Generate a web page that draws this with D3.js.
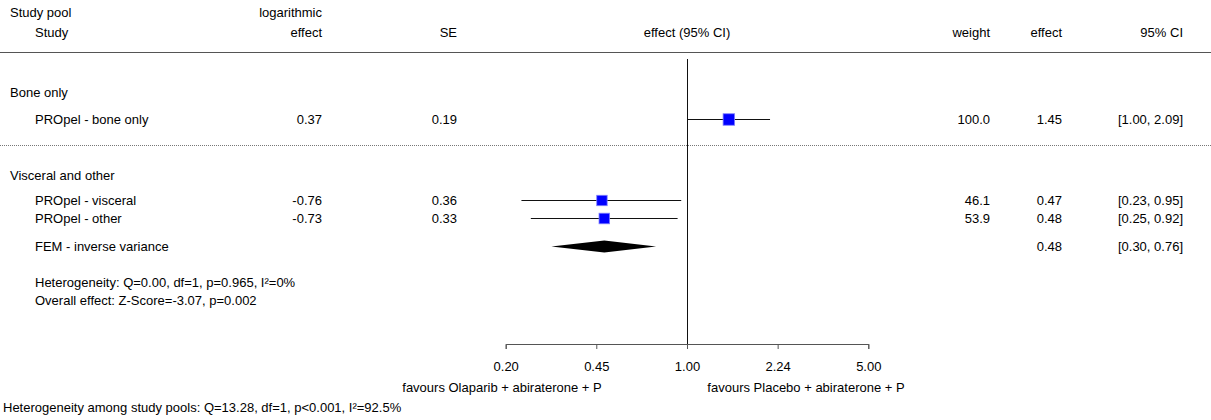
<!DOCTYPE html>
<html>
<head>
<meta charset="utf-8">
<script src="https://cdn.jsdelivr.net/npm/d3@7"></script>
<style>
  body { margin: 0; background: #fff; }
  text { font-family: "Liberation Sans", Arial, sans-serif; font-size: 13px; fill: #000; }
</style>
</head>
<body>
<div id="chart"></div>
<script>
// study data
var poolNames = ["Bone only", "Visceral and other"];
var studyNames = ["PROpel - bone only", "PROpel - visceral", "PROpel - other"];
var logEffect = ["0.37", "-0.76", "-0.73"];
var seValues = ["0.19", "0.36", "0.33"];
var weights = ["100.0", "46.1", "53.9"];
var effects = [1.45, 0.47, 0.48];
var ciLow = [1.00, 0.23, 0.25];
var ciHigh = [2.09, 0.95, 0.92];

// pooled (FEM) for visceral and other
var poolEffect = [0.48];
var poolLow = [0.30];
var poolHigh = [0.76];

var tickValues = [0.20, 0.447, 1.00, 2.236, 5.00];
var tickLabels = ["0.20", "0.45", "1.00", "2.24", "5.00"];

var width = 1211, height = 420;

var svg = d3.select("#chart").append("svg")
    .attr("width", width)
    .attr("height", height);

var x = d3.scaleLog().domain([0.2, 5]).range([505.7, 868.3]);
var size = d3.scaleLinear().domain([0, 100]).range([9.5, 11.5]);

var fmt = d3.format(".2f");

// row baselines
var studyBase = [124, 205, 223];
var poolBase = [97, 180];
var femBase = 251;

// column anchors
var colStudy = 35, colPool = 10, colLog = 322, colSE = 457,
    colW = 990, colEff = 1062, colCI = 1183, colMid = x(1);

function txt(xp, yp, s, anchor) {
  return svg.append("text")
    .attr("x", xp).attr("y", yp)
    .attr("text-anchor", anchor || "start")
    .text(s);
}

// header
txt(colPool, 17, "Study pool");
txt(colStudy, 37, "Study");
txt(colLog, 17, "logarithmic", "end");
txt(colLog, 37, "effect", "end");
txt(colSE, 37, "SE", "end");
txt(colMid, 37, "effect (95% CI)", "middle");
txt(colW, 37, "weight", "end");
txt(colEff, 37, "effect", "end");
txt(colCI, 37, "95% CI", "end");

svg.append("line")
  .attr("x1", 0).attr("x2", width)
  .attr("y1", 52.5).attr("y2", 52.5)
  .style("stroke", "#555").style("stroke-width", 1);

// dotted separator between pools
svg.append("line")
  .attr("x1", 0).attr("x2", width)
  .attr("y1", 145.5).attr("y2", 145.5)
  .style("stroke", "#777").style("stroke-width", 1)
  .style("stroke-dasharray", "1,1");

// null line
svg.append("line")
  .attr("x1", Math.round(colMid) + 0.5).attr("x2", Math.round(colMid) + 0.5)
  .attr("y1", 59).attr("y2", 344)
  .style("stroke", "#111").style("stroke-width", 1);

// pool labels
poolNames.forEach(function(p, i) { txt(colPool, poolBase[i], p); });

// study rows
studyNames.forEach(function(s, i) {
  var b = studyBase[i];
  txt(colStudy, b, s);
  txt(colLog, b, logEffect[i], "end");
  txt(colSE, b, seValues[i], "end");
  txt(colW, b, weights[i], "end");
  txt(colEff, b, fmt(effects[i]), "end");
  txt(colCI, b, "[" + fmt(ciLow[i]) + ", " + fmt(ciHigh[i]) + "]", "end");
});

var marks = svg.append("g");
var yc = function(i) { return studyBase[i] - 5; };

marks.selectAll(".ci")
  .data(effects)
  .enter().append("line")
  .attr("class", "ci")
  .attr("x1", function(d, i) { return x(ciLow[i]); })
  .attr("x2", function(d, i) { return x(ciHigh[i]); })
  .attr("y1", function(d, i) { return yc(i) + 0.5; })
  .attr("y2", function(d, i) { return yc(i) + 0.5; })
  .style("stroke", "#111").style("stroke-width", 1);

marks.selectAll(".box")
  .data(effects)
  .enter().append("rect")
  .attr("class", "box")
  .attr("x", function(d, i) { return x(d) - size(+weights[i]) / 2; })
  .attr("y", function(d, i) { return yc(i) + 0.5 - size(+weights[i]) / 2; })
  .attr("width", function(d, i) { return size(+weights[i]); })
  .attr("height", function(d, i) { return size(+weights[i]); })
  .style("fill", "#0000ff")
  .style("stroke", "#7f7fff").style("stroke-width", 0.8);

// FEM row
txt(colStudy, femBase, "FEM - inverse variance");
txt(colEff, femBase, fmt(poolEffect[0]), "end");
txt(colCI, femBase, "[" + fmt(poolLow[0]) + ", " + fmt(poolHigh[0]) + "]", "end");

var dy = femBase - 4.5;
marks.selectAll(".diamond")
  .data(poolEffect)
  .enter().append("path")
  .attr("class", "diamond")
  .attr("d", function(d, i) {
    return "M" + x(poolLow[i]) + "," + dy +
      "L" + x(d) + "," + (dy - 6) +
      "L" + x(poolHigh[i]) + "," + dy +
      "L" + x(d) + "," + (dy + 6) + "Z";
  })
  .style("fill", "#000");

txt(colStudy, 287, "Heterogeneity: Q=0.00, df=1, p=0.965, I\u00b2=0%");
txt(colStudy, 305, "Overall effect: Z-Score=-3.07, p=0.002");

// axis
var axis = d3.axisBottom(x)
  .tickValues(tickValues)
  .tickFormat(function(d, i) { return tickLabels[i]; })
  .tickSize(5)
  .tickPadding(13);

var ax = svg.append("g")
  .attr("transform", "translate(0,344)")
  .call(axis);
ax.select(".domain").style("stroke", "#555");
ax.selectAll(".tick line").style("stroke", "#555");
ax.selectAll(".tick text")
  .style("font-size", "13px")
  .style("font-family", "Liberation Sans, Arial, sans-serif")
  .style("fill", "#000");

txt(502, 392, "favours Olaparib + abiraterone + P", "middle");
txt(806, 392, "favours Placebo + abiraterone + P", "middle");

txt(3, 412, "Heterogeneity among study pools: Q=13.28, df=1, p<0.001, I\u00b2=92.5%");
</script>
</body>
</html>
